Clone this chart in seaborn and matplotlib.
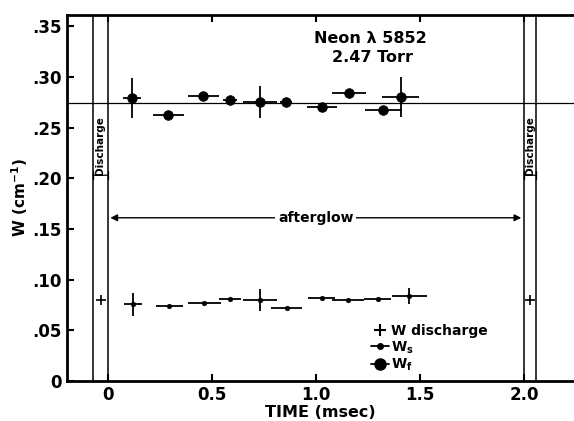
import numpy as np
import pandas as pd
import matplotlib
matplotlib.use("Agg")
import matplotlib.pyplot as plt
from matplotlib.lines import Line2D
import seaborn as sns

# W_f (fast component), big dots
wf_t = [0.116, 0.292, 0.46, 0.588, 0.732, 0.857, 1.028, 1.161, 1.324, 1.407]
wf = [0.279, 0.262, 0.281, 0.277, 0.275, 0.275, 0.270, 0.284, 0.267, 0.280]
wf_terr = [0.044, 0.075, 0.073, 0.035, 0.08, 0.03, 0.072, 0.082, 0.09, 0.09]
wf_err = [0.02, 0, 0, 0, 0.016, 0, 0, 0, 0, 0.02]

# W_s (slow component), small dots
ws_t = [0.121, 0.297, 0.465, 0.588, 0.732, 0.86, 1.028, 1.156, 1.297, 1.449]
ws = [0.0756, 0.0743, 0.0769, 0.0809, 0.0799, 0.0717, 0.0822, 0.0799, 0.081, 0.0841]
ws_terr = [0.044, 0.065, 0.078, 0.055, 0.08, 0.074, 0.065, 0.077, 0.064, 0.085]
ws_err = [0.011, 0, 0, 0, 0.011, 0, 0, 0, 0, 0.008]

# W during discharge
wd_t = [-0.031, 2.028]
wd = [0.080, 0.080]

dis1 = [-0.07, 0.0]
dis2 = [2.0, 2.057]
w_mean = 0.274

sns.set_style("ticks")
plt.rcParams['font.family'] = ['DejaVu Sans']
plt.rcParams['font.weight'] = 'bold'
for k in ['text.color', 'axes.labelcolor', 'xtick.color', 'ytick.color', 'axes.edgecolor']:
    plt.rcParams[k] = 'black'

fig = plt.figure(figsize=(5.74, 4.21), dpi=100)
ax = fig.add_axes([0.1167, 0.095, 0.8833, 0.8693])

df_f = pd.DataFrame({'t': wf_t, 'w': wf})
df_s = pd.DataFrame({'t': ws_t, 'w': ws})

ax.errorbar(wf_t, wf, xerr=wf_terr, yerr=wf_err, fmt='none', ecolor='black', elinewidth=1.3, capsize=0)
ax.errorbar(ws_t, ws, xerr=ws_terr, yerr=ws_err, fmt='none', ecolor='black', elinewidth=1.3, capsize=0)
sns.scatterplot(data=df_f, x='t', y='w', ax=ax, color='black', s=48, edgecolor='black', zorder=3, legend=False)
sns.scatterplot(data=df_s, x='t', y='w', ax=ax, color='black', s=12, edgecolor='black', zorder=3, legend=False)
ax.plot(wd_t, wd, linestyle='none', marker='+', color='black', markersize=7, markeredgewidth=1.2)

for x in dis1 + dis2:
    ax.axvline(x, color='black', lw=1.1)
ax.axhline(w_mean, color='black', lw=0.9)

# afterglow arrow
ax.annotate('', xy=(0.0, 0.161), xytext=(2.0, 0.161),
            arrowprops=dict(arrowstyle='<|-|>', color='black', lw=1.0, mutation_scale=10))
ax.text(1.0, 0.161, 'afterglow', ha='center', va='center', fontsize=10, fontweight='bold',
        bbox=dict(facecolor='white', edgecolor='none', pad=2))

for pair in [dis1, dis2]:
    ax.text(np.mean(pair), 0.232, 'Discharge', rotation=90, ha='center', va='center',
            fontsize=7.5, fontweight='bold')
    ax.annotate('', xy=(pair[0], 0.203), xytext=(pair[1], 0.203),
                arrowprops=dict(arrowstyle='|-|', color='black', lw=0.9, mutation_scale=3,
                                shrinkA=0, shrinkB=0))

ax.text(1.26, 0.338, 'Neon λ 5852', ha='center', va='center', fontsize=11.5, fontweight='bold')
ax.text(1.27, 0.319, '2.47 Torr', ha='center', va='center', fontsize=11.5, fontweight='bold')

ax.set_xlim(-0.195, 2.24)
ax.set_ylim(0, 0.361)
ax.set_xticks([0, 0.5, 1.0, 1.5, 2.0])
ax.set_xticklabels(['0', '0.5', '1.0', '1.5', '2.0'])
ax.set_yticks([0, 0.05, 0.10, 0.15, 0.20, 0.25, 0.30, 0.35])
ax.set_yticklabels(['0', '.05', '.10', '.15', '.20', '.25', '.30', '.35'])
ax.tick_params(direction='in', length=5, width=1.5, labelsize=12, top=True, right=False)
for lab in ax.get_xticklabels() + ax.get_yticklabels():
    lab.set_fontweight('bold')
for side in ['left', 'bottom', 'top']:
    ax.spines[side].set_linewidth(2)
ax.spines['right'].set_visible(False)

ax.set_xlabel('TIME (msec)', fontsize=11.5, fontweight='bold', labelpad=1)
ax.set_ylabel('W (cm$^{\\mathbf{-1}}$)', fontsize=11, fontweight='bold', labelpad=2)

handles = [
    Line2D([], [], linestyle='none', marker='+', color='black', markersize=8, markeredgewidth=1.5),
    Line2D([], [], color='black', lw=1.3, marker='o', markersize=4),
    Line2D([], [], color='black', lw=1.3, marker='o', markersize=8),
]
labels = ['W discharge', 'W$_\\mathbf{s}$', 'W$_\\mathbf{f}$']
ax.legend(handles, labels, loc='upper left', bbox_to_anchor=(0.585, 0.175), frameon=False,
          handlelength=1.3, handletextpad=0.2, labelspacing=0.1, borderpad=0,
          prop={'weight': 'bold', 'size': 10})

fig.savefig('out.png', dpi=100)
